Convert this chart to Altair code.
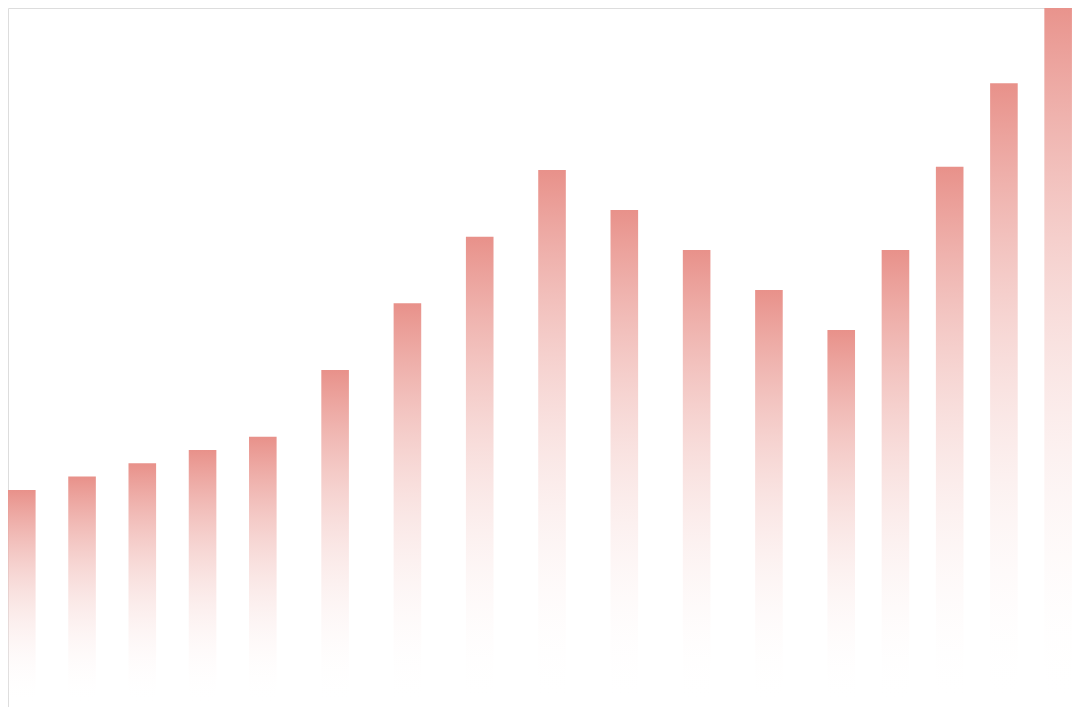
import altair as alt
import pandas as pd

# positions along the horizontal axis (abstract period units)
periods = [0, 1, 2, 3, 4, 5.2, 6.4, 7.6, 8.8, 10.0, 11.2, 12.4, 13.6, 14.5, 15.4, 16.3, 17.2]
# bar values
values = [3.2, 3.4, 3.6, 3.8, 4.0, 5.0, 6.0, 7.0, 8.0, 7.4, 6.8, 6.2, 5.6, 6.8, 8.05, 9.3, 10.55]

df = pd.DataFrame({"period": periods, "value": values})

gradient = alt.Gradient(
    gradient="linear",
    x1=0, y1=0, x2=0, y2=1,
    stops=[
        alt.GradientStop(color="#e8918a", offset=0),
        alt.GradientStop(color="rgba(255,255,255,0)", offset=1),
    ],
)

chart = (
    alt.Chart(df)
    .mark_bar(width=27.6, color=gradient, clip=True)
    .encode(
        x=alt.X("period:Q",
                scale=alt.Scale(domain=[-0.229, 17.43], nice=False, zero=False, padding=0),
                axis=None),
        y=alt.Y("value:Q",
                scale=alt.Scale(domain=[-0.056, 10.43], nice=False, zero=False, padding=0),
                axis=None),
        y2=alt.datum(0),
    )
    .properties(width=1064, height=699, padding=0, autosize=alt.AutoSizeParams(type="none"))
    .configure_view(stroke="transparent", strokeWidth=0)
    .configure(background="white")
)

chart.save("out.html", embed_options={"renderer": "svg", "actions": False})
